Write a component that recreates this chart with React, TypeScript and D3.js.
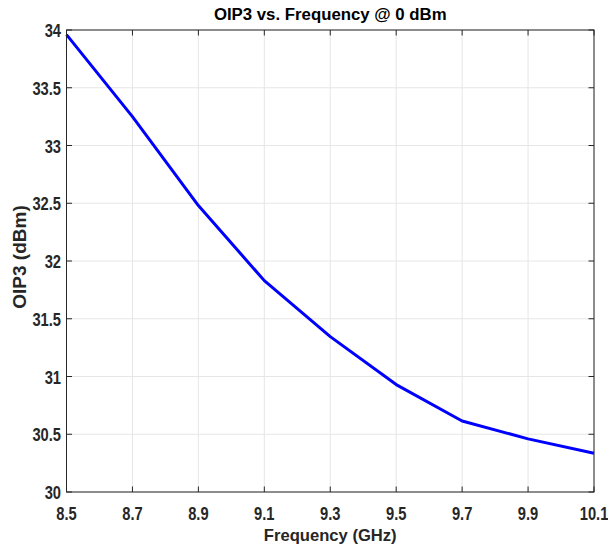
import React from "react";
import * as d3 from "d3";

const freqs = [8.5, 8.7, 8.9, 9.1, 9.3, 9.5, 9.7, 9.9, 10.1];
const oip3 = [33.96, 33.25, 32.48, 31.83, 31.345, 30.93, 30.615, 30.46, 30.335];
const xTicks = [8.5, 8.7, 8.9, 9.1, 9.3, 9.5, 9.7, 9.9, 10.1];
const yTicks = [30, 30.5, 31, 31.5, 32, 32.5, 33, 33.5, 34];
const title = "OIP3 vs. Frequency @ 0 dBm";
const xLabel = "Frequency (GHz)";
const yLabel = "OIP3 (dBm)";

const W = 608;
const H = 554;
const L = 66.5;
const R = 594;
const T = 30;
const B = 492;

export default function App() {
  const x = d3.scaleLinear().domain([8.5, 10.1]).range([L, R]);
  const y = d3.scaleLinear().domain([30, 34]).range([B, T]);
  const line = d3
    .line<number>()
    .x((_, i) => x(freqs[i]))
    .y((d) => y(d));
  const font = "'Liberation Sans', Arial, Helvetica, sans-serif";
  const tl = 5.5;
  const axisColor = "#262626";
  const gridColor = "#e6e6e6";
  const tickFs = 17.5;
  const sx = 0.84;
  return (
    <svg
      width={W}
      height={H}
      style={{ position: "absolute", left: 0, top: 0, background: "#fff" }}
      fontFamily={font}
    >
      <rect x={0} y={0} width={W} height={H} fill="#fff" />
      {xTicks.map((t) => (
        <line key={"gx" + t} x1={x(t)} x2={x(t)} y1={T} y2={B} stroke={gridColor} strokeWidth={1} />
      ))}
      {yTicks.map((t) => (
        <line key={"gy" + t} x1={L} x2={R} y1={y(t)} y2={y(t)} stroke={gridColor} strokeWidth={1} />
      ))}
      <path d={line(oip3) || ""} fill="none" stroke="#0000ff" strokeWidth={3} strokeLinejoin="round" />
      <rect x={L} y={T} width={R - L} height={B - T} fill="none" stroke={axisColor} strokeWidth={1} />
      {xTicks.map((t) => (
        <g key={"tx" + t}>
          <line x1={x(t)} x2={x(t)} y1={B} y2={B - tl} stroke={axisColor} />
          <line x1={x(t)} x2={x(t)} y1={T} y2={T + tl} stroke={axisColor} />
          <text
            transform={`translate(${x(t)}, 520) scale(${sx}, 1)`}
            textAnchor="middle"
            fontSize={tickFs}
            fontWeight="bold"
            fill="#262626"
          >
            {String(t)}
          </text>
        </g>
      ))}
      {yTicks.map((t) => (
        <g key={"ty" + t}>
          <line x1={L} x2={L + tl} y1={y(t)} y2={y(t)} stroke={axisColor} />
          <line x1={R} x2={R - tl} y1={y(t)} y2={y(t)} stroke={axisColor} />
          <text
            transform={`translate(61, ${y(t) + 7}) scale(${sx}, 1)`}
            textAnchor="end"
            fontSize={tickFs}
            fontWeight="bold"
            fill="#262626"
          >
            {String(t)}
          </text>
        </g>
      ))}
      <text x={(L + R) / 2} y={20} textAnchor="middle" fontSize={16.8} fontWeight="bold" fill="#000">
        {title}
      </text>
      <text x={(L + R) / 2} y={541} textAnchor="middle" fontSize={16.6} fontWeight="bold" fill="#262626">
        {xLabel}
      </text>
      <text
        transform={`translate(26, 257) rotate(-90)`}
        textAnchor="middle"
        fontSize={19}
        fontWeight="bold"
        fill="#262626"
      >
        {yLabel}
      </text>
    </svg>
  );
}
